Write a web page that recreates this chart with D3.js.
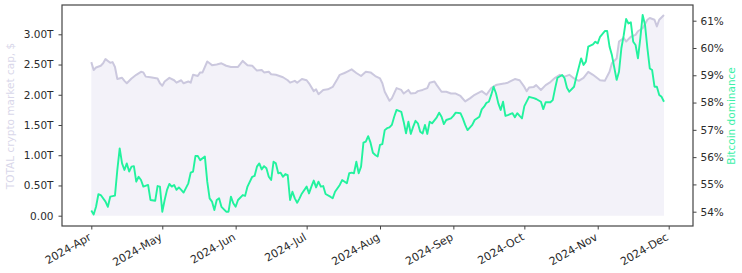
<!DOCTYPE html>
<html lang="en">
<head>
<meta charset="UTF-8">
<title>TOTAL crypto market cap vs Bitcoin dominance</title>
<style>
  body { margin: 0; background: #fff; }
  svg text { font-family: "DejaVu Sans", sans-serif; }
</style>
</head>
<body>
<script src="https://cdn.jsdelivr.net/npm/d3@7"></script>
<script>
// TOTAL market cap, trillions of $
const capDates = ["04-01","04-02","04-03","04-05","04-06","04-07","04-09","04-10","04-11","04-12","04-14","04-15","04-16","04-18","04-20","04-22","04-23","04-24","04-26","04-29","04-30",
  "05-01","05-02","05-04","05-06","05-07","05-09","05-10","05-12","05-13","05-14","05-16","05-17","05-18","05-20","05-21","05-22","05-24","05-26","05-28","05-30",
  "06-02","06-04","06-06","06-08","06-10","06-12","06-13","06-15","06-16","06-18","06-21","06-23","06-24","06-26","06-27","06-29",
  "07-01","07-02","07-04","07-05","07-06","07-08","07-10","07-12","07-14","07-15","07-17","07-18","07-20","07-22","07-24","07-26","07-28","07-30",
  "08-01","08-02","08-03","08-05","08-06","08-08","08-10","08-11","08-13","08-14","08-16","08-17","08-19","08-21","08-22","08-24","08-25","08-27","08-29","08-31",
  "09-02","09-04","09-06","09-08","09-10","09-13","09-15","09-17","09-19","09-20","09-23","09-24","09-25","09-27","09-29",
  "10-01","10-02","10-03","10-05","10-06","10-08","10-10","10-12","10-14","10-16","10-18","10-20","10-22","10-24","10-26","10-28","10-30",
  "11-02","11-04","11-06","11-07","11-09","11-10","11-12","11-13","11-15","11-17","11-18","11-20","11-22","11-23","11-25","11-26","11-27","11-29"];
const capValues = [2.54,2.41,2.45,2.48,2.52,2.59,2.53,2.54,2.46,2.26,2.28,2.23,2.19,2.27,2.33,2.38,2.37,2.30,2.29,2.27,2.19,
  2.15,2.22,2.28,2.24,2.20,2.24,2.19,2.22,2.20,2.33,2.31,2.37,2.37,2.55,2.52,2.49,2.50,2.52,2.48,2.46,
  2.46,2.56,2.49,2.48,2.40,2.41,2.37,2.38,2.34,2.33,2.29,2.24,2.20,2.23,2.20,2.26,
  2.24,2.19,2.06,2.09,2.01,2.08,2.09,2.13,2.26,2.33,2.36,2.38,2.42,2.36,2.31,2.38,2.37,2.31,
  2.27,2.19,2.05,1.90,1.94,2.11,2.08,2.02,2.08,2.02,2.03,2.06,2.08,2.11,2.20,2.22,2.16,2.05,2.05,2.02,
  2.02,1.98,1.89,1.94,2.00,2.06,2.00,2.11,2.16,2.17,2.19,2.20,2.22,2.26,2.24,
  2.13,2.06,2.12,2.13,2.16,2.08,2.16,2.21,2.28,2.33,2.30,2.33,2.27,2.23,2.28,2.38,2.33,
  2.24,2.23,2.38,2.52,2.60,2.88,2.94,2.88,2.96,2.99,3.05,3.10,3.24,3.27,3.24,3.13,3.24,3.32];

// Bitcoin dominance, %
const domDates = ["04-01","04-02","04-03","04-04","04-05","04-07","04-08","04-09","04-11","04-12","04-13","04-14","04-15","04-16","04-17","04-18","04-19","04-20","04-21","04-22","04-23","04-25","04-26","04-28","04-29","04-30",
  "05-01","05-02","05-03","05-04","05-05","05-06","05-07","05-08","05-09","05-10","05-12","05-13","05-14","05-15","05-16","05-17","05-19","05-20","05-21","05-22","05-23","05-24","05-25","05-26","05-28","05-29","05-30","05-31",
  "06-01","06-02","06-04","06-05","06-06","06-08","06-09","06-10","06-11","06-12","06-13","06-14","06-15","06-16","06-17","06-18","06-19","06-20","06-21","06-22","06-23","06-24","06-25","06-26","06-27","06-28","06-29",
  "07-01","07-02","07-03","07-04","07-05","07-06","07-07","07-08","07-09","07-11","07-12","07-13","07-15","07-16","07-18","07-19","07-20","07-21","07-22","07-23","07-24","07-25","07-26","07-27","07-28","07-29","07-30","07-31",
  "08-01","08-02","08-03","08-04","08-05","08-06","08-07","08-08","08-10","08-11","08-12","08-13","08-14","08-15","08-16","08-17","08-18","08-19","08-20","08-21","08-22","08-23","08-25","08-26","08-27","08-28","08-29","08-31",
  "09-01","09-02","09-04","09-05","09-06","09-07","09-09","09-10","09-12","09-13","09-14","09-15","09-16","09-17","09-18","09-19","09-20","09-21","09-22","09-23","09-24","09-26","09-27","09-28","09-29","09-30",
  "10-01","10-03","10-05","10-06","10-08","10-09","10-10","10-12","10-13","10-14","10-15","10-17","10-18","10-19","10-20","10-22","10-23","10-25","10-26","10-27","10-28","10-30","10-31",
  "11-01","11-02","11-04","11-05","11-06","11-07","11-09","11-10","11-11","11-12","11-13","11-14","11-15","11-16","11-17","11-18","11-19","11-20","11-21","11-22","11-23","11-24","11-25","11-26","11-27","11-28","11-29"];
const domValues = [54.04,53.90,54.18,54.64,54.61,54.37,54.18,54.55,54.59,55.53,56.32,55.77,55.53,55.77,55.47,55.65,55.67,55.10,55.28,55.16,54.92,54.98,54.43,54.40,54.94,54.92,
  54.00,54.43,54.80,55.02,54.92,54.98,54.80,54.89,54.80,54.70,55.04,55.43,55.47,56.04,56.04,55.89,56.02,55.10,54.49,54.37,54.06,54.43,54.49,54.18,54.00,54.00,54.55,54.31,
  54.18,54.43,54.61,54.58,54.92,55.28,55.31,55.65,55.77,55.55,55.67,55.59,55.28,55.16,55.83,55.77,55.41,55.43,55.28,55.38,55.34,54.43,54.73,54.49,54.33,54.49,54.67,
  54.92,54.67,54.92,55.14,54.89,55.10,54.92,54.94,54.65,54.55,54.49,54.73,54.98,55.16,55.04,55.41,55.43,55.41,55.83,55.41,55.65,56.53,56.57,56.77,56.53,56.16,56.08,56.02,
  56.45,56.48,56.99,57.06,57.09,57.18,57.48,57.73,57.66,57.30,56.87,57.30,56.85,57.11,57.33,57.24,56.93,56.87,57.18,56.85,57.30,57.24,57.46,57.63,57.48,57.21,57.36,57.42,
  57.51,57.63,57.61,57.42,57.18,56.99,57.18,57.36,57.48,57.75,57.85,57.99,58.03,58.28,58.58,58.34,57.97,57.73,58.03,57.51,57.54,57.61,57.46,57.61,57.51,57.42,
  57.87,58.21,58.16,58.13,58.03,57.76,58.01,58.01,58.09,58.52,58.91,59.01,58.89,58.54,58.40,58.58,58.95,59.62,59.38,59.50,60.05,60.13,60.23,
  60.17,60.41,60.62,60.62,60.05,59.74,58.83,59.13,59.99,60.47,61.06,60.90,60.94,60.23,60.11,59.62,60.35,61.21,60.84,59.99,59.25,59.19,58.58,58.58,58.28,58.21,58.03];

const capTicks = [0, 0.5, 1, 1.5, 2, 2.5, 3];
const domTicks = [54, 55, 56, 57, 58, 59, 60, 61];

const width = 742, height = 273;
const frame = { left: 62, right: 693, top: 5, bottom: 226 };

const parse = d3.timeParse("%Y-%m-%d");
const day = s => parse("2024-" + s);
const cap = capDates.map((d, i) => ({ date: day(d), v: capValues[i] }));
const dom = domDates.map((d, i) => ({ date: day(d), v: domValues[i] }));

const x = d3.scaleTime().domain([parse("2024-04-01"), parse("2024-12-01")]).range([91.3, 668.7]);
const yCap = d3.scaleLinear().domain([0, 3]).range([215.7, 34.3]);
const yDom = d3.scaleLinear().domain([54, 61]).range([211.7, 20.7]);

const svg = d3.select("body").append("svg")
    .attr("width", width)
    .attr("height", height);

// market cap area + line
svg.append("path")
    .datum(cap)
    .attr("fill", "#f3f2f9")
    .attr("d", d3.area().x(d => x(d.date)).y0(yCap(0)).y1(d => yCap(d.v)));

svg.append("path")
    .datum(cap)
    .attr("fill", "none")
    .attr("stroke", "#cbc8de")
    .attr("stroke-width", 2)
    .attr("stroke-linejoin", "round")
    .attr("d", d3.line().x(d => x(d.date)).y(d => yCap(d.v)));

// dominance line
svg.append("path")
    .datum(dom)
    .attr("fill", "none")
    .attr("stroke", "#22f29e")
    .attr("stroke-width", 1.9)
    .attr("stroke-linejoin", "round")
    .attr("d", d3.line().x(d => x(d.date)).y(d => yDom(d.v)));

// frame
svg.append("rect")
    .attr("x", frame.left)
    .attr("y", frame.top)
    .attr("width", frame.right - frame.left)
    .attr("height", frame.bottom - frame.top)
    .attr("fill", "none")
    .attr("stroke", "#444")
    .attr("stroke-width", 1.2);

function styleAxis(g) {
    g.select(".domain").remove();
    g.selectAll(".tick line").attr("stroke", "#444");
    g.selectAll(".tick text")
        .attr("fill", "#2b2b2b")
        .style("font-size", "10.5px");
}

svg.append("g")
    .attr("transform", `translate(${frame.left},0)`)
    .call(d3.axisLeft(yCap).tickValues(capTicks).tickSize(3.5).tickPadding(5)
        .tickFormat(d => d === 0 ? "0.00" : d.toFixed(2) + "T"))
    .call(styleAxis);

svg.append("g")
    .attr("transform", `translate(${frame.right},0)`)
    .call(d3.axisRight(yDom).tickValues(domTicks).tickSize(3.5).tickPadding(4)
        .tickFormat(d => d + "%"))
    .call(styleAxis);

const months = d3.timeMonth.range(parse("2024-04-01"), parse("2024-12-02"));
const xAxis = svg.append("g")
    .attr("transform", `translate(0,${frame.bottom})`)
    .call(d3.axisBottom(x).tickValues(months).tickSize(3.5).tickFormat(d3.timeFormat("%Y-%b")))
    .call(styleAxis);

xAxis.selectAll(".tick text")
    .style("font-size", "11px")
    .attr("text-anchor", "end")
    .attr("y", 0)
    .attr("dy", "0.75em")
    .attr("transform", "translate(-4,6) rotate(-30)");

// axis titles
svg.append("text")
    .attr("transform", "translate(14,116) rotate(-90)")
    .attr("text-anchor", "middle")
    .attr("fill", "#d9d7ea")
    .style("font-size", "10.5px")
    .text("TOTAL crypto market cap, $");

svg.append("text")
    .attr("transform", "translate(735,116) rotate(-90)")
    .attr("text-anchor", "middle")
    .attr("fill", "#3cf0a8")
    .style("font-size", "10.5px")
    .text("Bitcoin dominance");
</script>
</body>
</html>
